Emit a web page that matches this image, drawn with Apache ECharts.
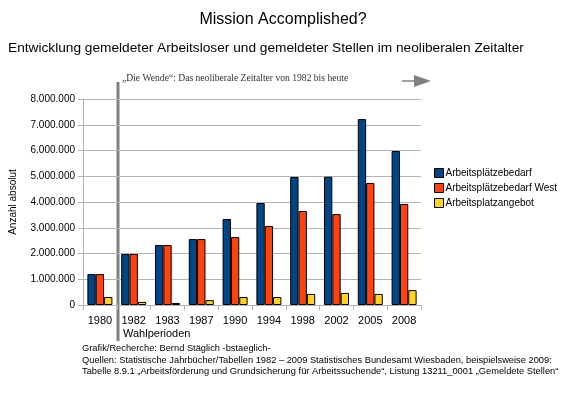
<!DOCTYPE html>
<html>
<head>
<meta charset="utf-8">
<title>Mission Accomplished?</title>
<script src="https://cdn.jsdelivr.net/npm/echarts@6/dist/echarts.min.js"></script>
<style>
  html, body { margin: 0; padding: 0; background: #fff; }
  #main { width: 566px; height: 400px; }
</style>
</head>
<body>
<div id="main"></div>
<script>
// Daten
var jahre = ['1980', '1982', '1983', '1987', '1990', '1994', '1998', '2002', '2005', '2008'];
var bedarf = [1200000, 1980000, 2330000, 2560000, 3340000, 3960000, 4970000, 4980000, 7220000, 5980000];
var bedarfWest = [1200000, 1980000, 2330000, 2560000, 2640000, 3070000, 3650000, 3530000, 4740000, 3920000];
var angebot = [310000, 120000, 80000, 190000, 310000, 310000, 430000, 470000, 430000, 580000];
var serienNamen = ['Arbeitsplätzebedarf', 'Arbeitsplätzebedarf West', 'Arbeitsplatzangebot'];
var farben = ['#004586', '#ff420e', '#ffd320'];

var myChart = echarts.init(document.getElementById('main'));

function tausender(v) {
    return String(v).replace(/\B(?=(\d{3})+(?!\d))/g, '.');
}

var font = 'Liberation Sans, Arial, sans-serif';

var option = {
    animation: false,
    textStyle: { fontFamily: font },
    color: farben,
    title: [
        { text: 'Mission Accomplished?', left: 'center', top: 7,
          textStyle: { fontSize: 16, fontWeight: 'normal', color: '#000' } },
        { text: 'Entwicklung gemeldeter Arbeitsloser und gemeldeter Stellen im neoliberalen Zeitalter',
          left: 3, top: 36, textStyle: { fontSize: 13.7, fontWeight: 'normal', color: '#000' } }
    ],
    legend: {
        orient: 'vertical', left: 429, top: 163, itemWidth: 9, itemHeight: 9, itemGap: 5,
        icon: 'rect',
        itemStyle: { borderColor: '#000', borderWidth: 1 },
        textStyle: { fontSize: 10, color: '#000', padding: [0, 0, 0, -3] },
        data: serienNamen
    },
    grid: { left: 83, right: 145, top: 99, bottom: 95 },
    xAxis: {
        type: 'category',
        data: jahre,
        axisLine: { lineStyle: { color: '#b3b3b3' } },
        axisTick: { show: true, length: 5, lineStyle: { color: '#b3b3b3' } },
        axisLabel: { color: '#000', fontSize: 11, margin: 10 }
    },
    yAxis: {
        type: 'value', min: 0, max: 8000000, interval: 1000000,
        name: 'Anzahl absolut', nameLocation: 'middle', nameGap: 65, nameRotate: 90,
        nameTextStyle: { color: '#000', fontSize: 10 },
        axisLine: { show: true, lineStyle: { color: '#b3b3b3' } },
        axisTick: { show: true, length: 5, lineStyle: { color: '#b3b3b3' } },
        splitLine: { lineStyle: { color: '#b3b3b3' } },
        axisLabel: { color: '#000', fontSize: 10, margin: 8, formatter: tausender }
    },
    series: [
        { name: serienNamen[0], type: 'bar', data: bedarf, barGap: '0%', barCategoryGap: '26%',
          itemStyle: { borderColor: '#000', borderWidth: 1 } },
        { name: serienNamen[1], type: 'bar', data: bedarfWest, barGap: '0%', barCategoryGap: '26%',
          itemStyle: { borderColor: '#000', borderWidth: 1 } },
        { name: serienNamen[2], type: 'bar', data: angebot, barGap: '0%', barCategoryGap: '26%',
          itemStyle: { borderColor: '#000', borderWidth: 1 } }
    ],
    graphic: [
        // Linie "Die Wende"
        { type: 'line', shape: { x1: 118, y1: 82, x2: 118, y2: 341 },
          style: { stroke: '#808080', lineWidth: 3 } },
        { type: 'text', left: 122, top: 73,
          style: { text: '\u201EDie Wende\u201C: Das neoliberale Zeitalter von 1982 bis heute',
                   font: '9.6px "Liberation Serif", "Times New Roman", serif', fill: '#333' } },
        { type: 'line', shape: { x1: 402, y1: 81, x2: 416, y2: 81 },
          style: { stroke: '#808080', lineWidth: 1.5 } },
        { type: 'polygon', shape: { points: [[414, 75], [431, 81], [414, 87]] },
          style: { fill: '#808080' } },
        { type: 'text', left: 123, top: 328,
          style: { text: 'Wahlperioden', font: '11px ' + font, fill: '#000' } },
        { type: 'text', left: 82, top: 344,
          style: { text: 'Grafik/Recherche: Bernd Stäglich -bstaeglich-', font: '9.3px ' + font, fill: '#000' } },
        { type: 'text', left: 82, top: 356,
          style: { text: 'Quellen: Statistische Jahrbücher/Tabellen 1982 \u2013 2009 Statistisches Bundesamt Wiesbaden, beispielsweise 2009:',
                   font: '9.3px ' + font, fill: '#000' } },
        { type: 'text', left: 82, top: 367,
          style: { text: 'Tabelle 8.9.1 \u201EArbeitsförderung und Grundsicherung für Arbeitssuchende\u201C, Listung 13211_0001 \u201EGemeldete Stellen\u201C',
                   font: '9.3px ' + font, fill: '#000' } }
    ]
};

myChart.setOption(option);
</script>
</body>
</html>
